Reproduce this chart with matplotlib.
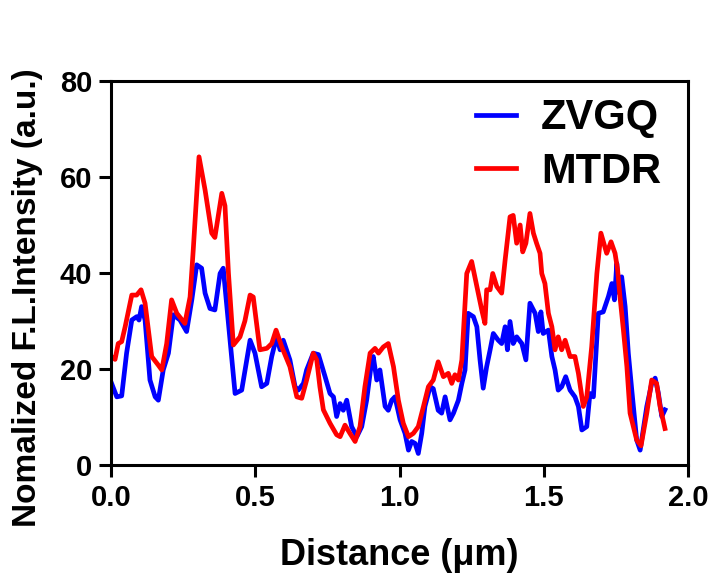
import matplotlib
matplotlib.use('Agg')
import matplotlib.pyplot as plt

# line profile values
dist_zvgq = [0.002, 0.020, 0.037, 0.054, 0.072, 0.089, 0.097, 0.106, 0.118, 0.135,
             0.153, 0.164, 0.181, 0.199, 0.216, 0.239, 0.262, 0.280, 0.297, 0.314,
             0.326, 0.343, 0.360, 0.378, 0.389, 0.407, 0.430, 0.453, 0.482, 0.499,
             0.522, 0.540, 0.557, 0.574, 0.586, 0.597, 0.620, 0.638, 0.649, 0.667,
             0.678, 0.701, 0.719, 0.742, 0.759, 0.771, 0.782, 0.794, 0.805, 0.817,
             0.834, 0.852, 0.869, 0.886, 0.904, 0.909, 0.921, 0.932, 0.950, 0.961,
             0.973, 0.984, 1.002, 1.019, 1.031, 1.042, 1.054, 1.065, 1.077, 1.088,
             1.106, 1.117, 1.134, 1.146, 1.158, 1.175, 1.187, 1.204, 1.216, 1.227,
             1.238, 1.256, 1.268, 1.279, 1.290, 1.302, 1.314, 1.325, 1.342, 1.354,
             1.366, 1.374, 1.383, 1.394, 1.406, 1.424, 1.438, 1.452, 1.470, 1.481,
             1.490, 1.498, 1.516, 1.528, 1.539, 1.550, 1.562, 1.576, 1.591, 1.608,
             1.620, 1.632, 1.649, 1.660, 1.672, 1.689, 1.706, 1.724, 1.736, 1.745,
             1.753, 1.762, 1.770, 1.782, 1.793, 1.805, 1.822, 1.834, 1.857, 1.874,
             1.886, 1.897, 1.909, 1.920]
int_zvgq = [17.0, 14.2, 14.4, 23.3, 30.2, 30.9, 30.2, 33.0, 30.2, 17.7,
            14.2, 13.5, 19.8, 23.3, 31.3, 30.2, 27.8, 34.4, 41.7, 41.0,
            35.8, 32.6, 32.3, 39.9, 41.0, 29.5, 14.9, 15.6, 26.0, 23.3,
            16.3, 17.0, 22.6, 26.7, 24.0, 26.0, 21.9, 16.3, 15.6, 17.0,
            19.8, 23.3, 23.0, 18.4, 14.9, 14.2, 10.1, 12.8, 11.4, 13.5,
            8.0, 5.9, 8.0, 13.5, 21.9, 22.6, 17.7, 19.8, 12.2, 11.4,
            13.5, 14.2, 9.4, 6.6, 3.1, 4.9, 4.5, 2.4, 6.6, 12.2,
            16.3, 15.9, 11.4, 10.8, 14.2, 9.4, 10.8, 13.5, 17.0, 19.8,
            31.6, 30.9, 28.8, 21.9, 16.0, 20.5, 24.0, 27.4, 26.0, 25.3,
            28.8, 24.0, 29.9, 25.3, 26.7, 25.3, 21.9, 33.7, 31.6, 27.8,
            31.9, 27.4, 28.1, 22.6, 19.8, 15.6, 16.3, 18.4, 15.6, 14.2,
            12.2, 7.3, 8.0, 14.9, 14.2, 31.6, 31.9, 35.1, 37.8, 34.4,
            42.0, 35.8, 39.2, 33.0, 23.3, 15.6, 5.2, 3.1, 12.2, 17.0,
            18.1, 15.0, 10.1, 11.5]

dist_mtdr = [0.002, 0.014, 0.025, 0.037, 0.049, 0.072, 0.089, 0.104, 0.118, 0.141,
             0.164, 0.176, 0.193, 0.210, 0.228, 0.256, 0.274, 0.285, 0.305, 0.326,
             0.349, 0.360, 0.384, 0.395, 0.407, 0.424, 0.447, 0.464, 0.482, 0.493,
             0.516, 0.540, 0.557, 0.572, 0.592, 0.620, 0.644, 0.661, 0.678, 0.701,
             0.713, 0.724, 0.736, 0.759, 0.782, 0.794, 0.811, 0.828, 0.846, 0.863,
             0.880, 0.898, 0.915, 0.927, 0.944, 0.961, 0.979, 0.996, 1.013, 1.031,
             1.048, 1.065, 1.083, 1.100, 1.117, 1.134, 1.152, 1.169, 1.181, 1.192,
             1.204, 1.216, 1.233, 1.250, 1.268, 1.285, 1.296, 1.302, 1.314, 1.323,
             1.337, 1.354, 1.366, 1.383, 1.394, 1.406, 1.418, 1.427, 1.438, 1.452,
             1.464, 1.475, 1.487, 1.493, 1.504, 1.516, 1.528, 1.539, 1.550, 1.562,
             1.574, 1.591, 1.608, 1.620, 1.637, 1.649, 1.666, 1.684, 1.698, 1.718,
             1.733, 1.747, 1.756, 1.764, 1.776, 1.788, 1.799, 1.822, 1.837, 1.857,
             1.874, 1.891, 1.903, 1.920]
int_mtdr = [22.6, 22.0, 25.3, 25.7, 28.8, 35.4, 35.4, 36.5, 33.7, 22.6,
            20.8, 19.8, 25.3, 34.4, 31.6, 29.5, 35.0, 44.8, 64.2, 57.3,
            48.3, 47.4, 56.6, 54.0, 40.0, 25.0, 26.7, 30.0, 35.4, 35.0,
            24.0, 24.3, 25.3, 28.1, 24.6, 20.5, 14.2, 13.9, 17.7, 23.3,
            21.9, 16.3, 11.5, 8.7, 6.3, 5.9, 8.3, 6.6, 4.9, 8.0,
            16.3, 23.3, 24.3, 23.3, 24.6, 25.3, 20.5, 13.5, 8.7, 5.9,
            6.6, 8.0, 12.2, 16.3, 17.7, 21.5, 18.4, 19.1, 17.0, 18.8,
            17.7, 21.9, 39.9, 42.4, 37.2, 32.3, 29.5, 36.5, 36.5, 39.9,
            37.2, 35.8, 42.7, 51.7, 52.0, 46.2, 50.0, 44.4, 46.2, 52.4,
            48.3, 46.2, 44.1, 39.9, 37.8, 31.6, 28.8, 24.0, 26.7, 24.0,
            26.0, 22.6, 22.6, 19.1, 12.2, 14.2, 24.6, 39.9, 48.3, 44.1,
            46.5, 44.1, 40.6, 35.1, 28.1, 20.5, 10.8, 5.2, 4.0, 10.8,
            17.7, 17.0, 12.2, 7.6]

x_ticks = [0.0, 0.5, 1.0, 1.5, 2.0]
y_ticks = [0, 20, 40, 60, 80]

plt.rcParams['font.family'] = ['Liberation Sans', 'DejaVu Sans']
plt.rcParams['font.weight'] = 'bold'

fig = plt.figure(figsize=(7.13, 5.76), dpi=100)
ax = fig.add_axes([0.1557, 0.1927, 0.8093, 0.6667])

ax.plot(dist_zvgq, int_zvgq, color='#0000ff', lw=3.4, label='ZVGQ')
ax.plot(dist_mtdr, int_mtdr, color='#ff0000', lw=3.4, label='MTDR')

ax.set_xlim(0, 2.0)
ax.set_ylim(0, 80)
ax.set_xticks(x_ticks)
ax.set_xticklabels(['%.1f' % v for v in x_ticks])
ax.set_yticks(y_ticks)

for s in ax.spines.values():
    s.set_linewidth(2.2)
ax.tick_params(direction='out', length=8.5, width=2.2, labelsize=21, pad=5)

ax.set_xlabel('Distance (μm)', fontsize=26, fontweight='bold')
ax.set_ylabel('Nomalized F.L.Intensity (a.u.)', fontsize=24, fontweight='bold')
ax.xaxis.set_label_coords(0.5, -0.19)
ax.yaxis.set_label_coords(-0.118, 0.435)

ax.legend(loc='upper right', bbox_to_anchor=(0.953, 0.955), frameon=False,
          fontsize=30, handlelength=0.96, handletextpad=0.6, labelspacing=0.32,
          borderpad=0, borderaxespad=0)

fig.savefig('out.png', dpi=100)
